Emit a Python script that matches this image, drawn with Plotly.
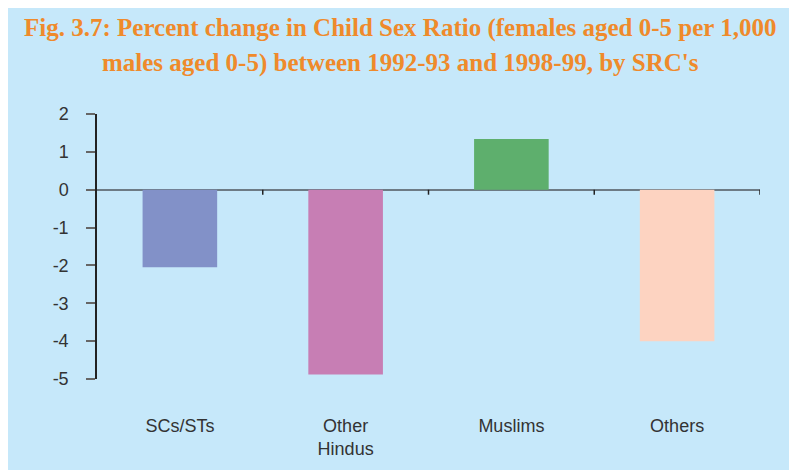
import plotly.graph_objects as go

# Werte
kategorien = ["SCs/STs", "Other<br>Hindus", "Muslims", "Others"]
veraenderung = [-2.05, -4.88, 1.34, -4.0]
farben = ["#8291C8", "#C77EB4", "#5EAF6D", "#FDD3C1"]
y_ticks = [2, 1, 0, -1, -2, -3, -4, -5]
y_ticktext = ["2", "1", "0", "-1", "-2", "-3", "-4", "-5"]

titel_1 = "Fig. 3.7: Percent change in Child Sex Ratio (females aged 0-5 per 1,000"
titel_2 = "males aged 0-5) between 1992-93 and 1998-99, by SRC's"

W, H = 797, 470
ml, mr, mt, mb = 89, 45, 106, 99
hintergrund = "#C6E8FA"
label_font = dict(family="Liberation Sans, Arial", size=18, color="#333333")
titel_font = dict(family="Liberation Serif", size=25, color="#EF8A2B", weight="bold")

fig = go.Figure(go.Bar(x=kategorien, y=veraenderung, marker_color=farben,
                       marker_line_width=0, width=0.45))

# kleine Striche an den Kategoriegrenzen auf der Nulllinie
for i in range(1, len(kategorien) + 1):
    fig.add_shape(type="line", xref="x", yref="y", ysizemode="pixel", yanchor=0,
                  x0=i - 0.5, x1=i - 0.5, y0=0, y1=-5,
                  line=dict(color="#222222", width=1.5))

# Titel in zwei Zeilen (Seite hat 8px Rand)
pw, ph = W - ml - mr, H - mt - mb
for text, y_px in [(titel_1, 20), (titel_2, 55)]:
    fig.add_annotation(text=text, xref="paper", yref="paper",
                       x=(392 - ml) / pw, y=(H - mb - y_px) / ph,
                       showarrow=False, xanchor="center", yanchor="middle", font=titel_font)

fig.update_layout(
    width=W, height=H, margin=dict(l=ml, r=mr, t=mt, b=mb),
    paper_bgcolor=hintergrund, plot_bgcolor=hintergrund, showlegend=False,
    xaxis=dict(range=[-0.5, 3.5], showline=False, showgrid=False, ticks="",
               tickfont=label_font, ticklabelstandoff=34),
    yaxis=dict(range=[-5, 2], tickvals=y_ticks, ticktext=y_ticktext, showgrid=False,
               showline=True, linecolor="#222222", linewidth=1.5,
               ticks="outside", ticklen=9, tickwidth=1.5, tickcolor="#666666",
               zeroline=True, zerolinecolor="#6D7B85", zerolinewidth=2,
               tickfont=label_font, ticklabelstandoff=14),
)

fig.write_html("out.html")
